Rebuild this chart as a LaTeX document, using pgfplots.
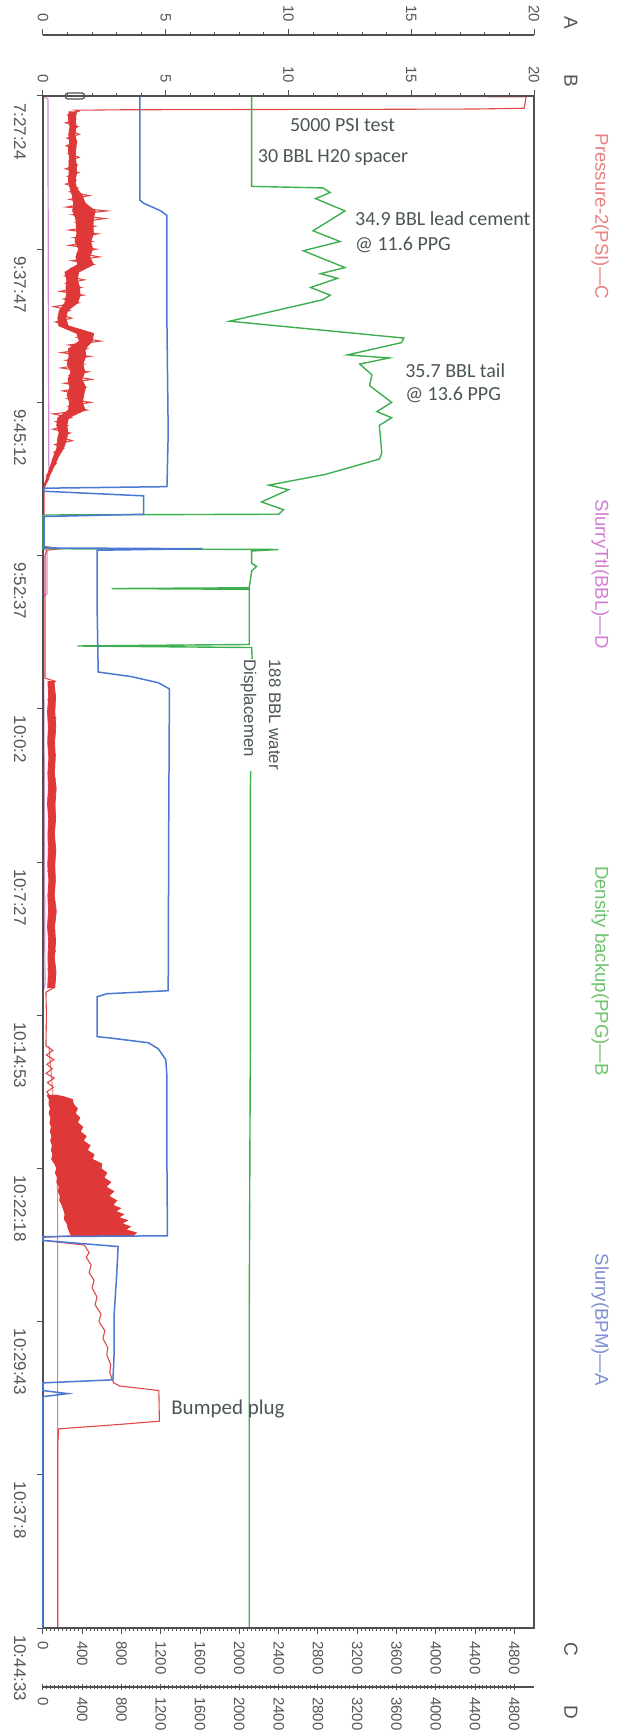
\documentclass[border=0pt]{standalone}
\usepackage{fontspec}
\setmainfont{Liberation Sans}
\newfontfamily\annfont{Carlito}
\usepackage{pgfplots}
\pgfplotsset{compat=1.18}

\definecolor{presline}{HTML}{E04848}
\definecolor{presband}{HTML}{DE3838}
\definecolor{presthin}{HTML}{E77B7B}
\definecolor{ttlline}{HTML}{D58AD6}
\definecolor{densline}{HTML}{3DAF4F}
\definecolor{rateline}{HTML}{4B78D2}
\definecolor{framec}{HTML}{505050}
\definecolor{tickc}{HTML}{555555}
\definecolor{anntext}{HTML}{4A5656}
\definecolor{legP}{HTML}{E88080}
\definecolor{legT}{HTML}{D47CD2}
\definecolor{legB}{HTML}{6CC36C}
\definecolor{legA}{HTML}{7D8ED2}

\pgfplotsset{
  chartbox/.style={width=245.5pt, height=766pt, scale only axis,
    enlargelimits=false, ymin=0, ymax=10},
  deco/.style={axis y line=none,
    axis line style={framec, line width=0.6pt},
    tick style={framec, line width=0.5pt},
    major tick length=3pt, minor tick length=1.6pt, tick align=outside,
    /pgf/number format/assume math mode=true,
    /pgf/number format/1000 sep={},
    ticklabel style={font=\fontsize{7.5}{8}\selectfont, text=tickc}},
}

\begin{document}
\begin{tikzpicture}

% pressure (C) and slurry total (D), 0-5000
\begin{axis}[chartbox, xmin=0, xmax=5000, y dir=reverse, hide axis, clip=false]
\addplot[ttlline, line width=0.6pt] coordinates {
(0,0) (50,0.02) (55,1.5) (60,2.5) (0,2.56) (0,2.95) (40,2.97) (40,3.25) (0,3.27)
(10,4.0) (20,5.8) (0,5.85) (0,10)
};
\addplot[presthin, line width=0.5pt] coordinates {
(60,6.2) (100,6.5) (140,6.95) (150,7.2) (150,10)
};
\addplot[presline, line width=0.55pt] coordinates {
(50,0) (4920,0.005) (4900,0.08) (4700,0.082) (4400,0.085) (3400,0.087) (2300,0.088)
(800,0.09) (330,0.093)
(363,0.100) (251,0.125) (335,0.150) (230,0.175) (356,0.200) (272,0.225) (370,0.250)
(244,0.275) (342,0.300) (237,0.325) (321,0.350) (258,0.375) (367,0.400) (265,0.425)
(349,0.450) (230,0.475) (363,0.500) (251,0.525) (335,0.550) (230,0.575) (356,0.600)
(272,0.625) (472,0.650) (270,0.675) (427,0.700) (241,0.725) (650,0.750) (304,0.775)
(630,0.800) (343,0.825) (528,0.850) (266,0.875) (559,0.900) (312,0.925) (497,0.950)
(266,0.975) (543,1.000) (358,1.025) (574,1.050) (297,1.075) (512,1.100) (281,1.125)
(338,1.150) (224,1.175) (420,1.200) (237,1.225) (388,1.250) (174,1.275) (413,1.300)
(212,1.325) (363,1.350) (109,1.375) (273,1.400) (164,1.425) (291,1.450) (127,1.475)
(255,1.500) (301,1.525) (486,1.550) (348,1.575) (586,1.600) (263,1.625) (448,1.650)
(186,1.675) (479,1.700) (232,1.725) (417,1.750) (186,1.775) (463,1.800) (278,1.825)
(494,1.850) (217,1.875) (432,1.900) (201,1.925) (386,1.950) (248,1.975) (486,2.000)
(263,2.025) (448,2.050) (102,2.075) (288,2.100) (131,2.125) (249,2.150) (102,2.175)
(278,2.200) (161,2.225) (298,2.250) (122,2.275) (209,2.300) (111,2.325) (148,2.350)
(95,2.375) (135,2.400) (72,2.425) (90,2.450) (36,2.475) (57,2.500) (18,2.525) (15,2.550)
(10,2.56) (10,2.94) (190,2.955) (40,2.965) (20,3.0) (20,3.8)
(126,3.82) (62,3.86) (110,3.90) (50,3.94) (122,3.98) (74,4.02) (130,4.06) (58,4.10)
(114,4.14) (54,4.18) (102,4.22) (66,4.26) (128,4.30) (70,4.34) (118,4.38) (50,4.42)
(126,4.46) (62,4.50) (110,4.54) (50,4.58) (122,4.62) (74,4.66) (130,4.70) (58,4.74)
(114,4.78) (54,4.82) (102,4.86) (66,4.90) (128,4.94) (70,4.98) (118,5.02) (50,5.06)
(126,5.10) (62,5.14) (110,5.18) (50,5.22) (122,5.26) (74,5.30) (130,5.34) (58,5.38)
(114,5.42) (54,5.46) (102,5.50) (66,5.54) (128,5.58) (70,5.62) (118,5.66) (50,5.70)
(126,5.74) (62,5.78) (110,5.82)
(30,5.85) (35,6.0) (30,6.2)
(100,6.23) (35,6.26) (110,6.29) (40,6.32) (95,6.35) (30,6.38) (115,6.41) (45,6.44)
(105,6.47) (40,6.50) (60,6.52)
(200,6.6) (100,6.8) (400,7.0) (200,7.2) (600,7.3) (290,7.44)
(0,7.45) (0,7.47) (420,7.50) (470,7.55) (440,7.58) (490,7.63) (470,7.68) (520,7.73)
(500,7.78) (550,7.84) (530,7.89) (590,7.95) (570,8.0) (630,8.06) (610,8.11) (660,8.17)
(650,8.22) (690,8.28) (680,8.33) (705,8.38) (720,8.40) (780,8.42) (1180,8.45)
(1185,8.65) (800,8.67) (160,8.70) (150,8.8) (150,10)
};
% pulsation bands of the pressure record
\addplot[fill=presband, draw=presband, line width=0.4pt] coordinates {
(266,0.10) (258,0.15) (275,0.20) (262,0.25) (271,0.30) (258,0.35) (269,0.40) (264,0.45)
(266,0.50) (258,0.55) (275,0.60) (299,0.65) (312,0.70) (302,0.75) (334,0.80) (340,0.85)
(345,0.90) (326,0.95) (364,1.00) (335,1.05) (354,1.10) (223,1.15) (242,1.20) (235,1.25)
(238,1.30) (223,1.35) (167,1.40) (151,1.45) (162,1.50) (346,1.55) (370,1.60) (260,1.65)
(265,1.70) (246,1.75) (284,1.80) (255,1.85) (274,1.90) (246,1.95) (270,2.00) (260,2.05)
(152,2.10) (140,2.15) (164,2.20) (146,2.25) (141,2.30) (109,2.35) (84,2.40) (57,2.45)
(32,2.50) (11,2.55)
(19,2.55) (52,2.50) (87,2.45) (126,2.40) (161,2.35) (209,2.30) (236,2.25) (254,2.20)
(242,2.15) (260,2.10) (429,2.05) (401,2.00) (415,1.95) (434,1.90) (396,1.85) (425,1.80)
(406,1.75) (434,1.70) (429,1.65) (501,1.60) (515,1.55) (255,1.50) (233,1.45) (250,1.40)
(354,1.35) (377,1.30) (373,1.25) (350,1.20) (362,1.15) (514,1.10) (476,1.05) (505,1.00)
(486,0.95) (514,0.90) (509,0.85) (513,0.80) (532,0.75) (428,0.70) (401,0.65) (338,0.60)
(329,0.55) (342,0.50) (340,0.45) (327,0.40) (334,0.35) (342,0.30) (325,0.25) (338,0.20)
(329,0.15) (342,0.10)
};
\addplot[fill=presband, draw=presband, line width=0.4pt] coordinates {
(50,3.82) (58,3.92) (46,4.02) (55,4.12) (48,4.22) (60,4.32) (50,4.42) (56,4.52)
(46,4.62) (58,4.72) (50,4.82) (55,4.92) (48,5.02) (60,5.12) (50,5.22) (56,5.32)
(46,5.42) (58,5.52) (50,5.62) (55,5.72) (48,5.82)
(120,5.82) (132,5.72) (115,5.62) (128,5.52) (118,5.42) (135,5.32) (114,5.22) (126,5.12)
(120,5.02) (130,4.92) (116,4.82) (128,4.72) (122,4.62) (134,4.52) (115,4.42) (125,4.32)
(118,4.22) (130,4.12) (120,4.02) (128,3.92) (110,3.82)
};
\addplot[fill=presband, draw=presband, line width=0.4pt] coordinates {
(40,6.52) (65,6.55) (60,6.58) (75,6.61) (62,6.64) (80,6.67) (70,6.70) (85,6.73)
(75,6.76) (90,6.79) (78,6.82) (95,6.85) (85,6.88) (100,6.91) (88,6.94) (120,6.97)
(140,7.00) (125,7.03) (150,7.06) (140,7.09) (165,7.12) (155,7.15) (175,7.18) (170,7.21)
(195,7.24) (210,7.27) (225,7.30) (215,7.33) (245,7.36) (255,7.39) (275,7.42) (290,7.44)
(920,7.44) (950,7.42) (840,7.40) (890,7.38) (800,7.36) (860,7.34) (770,7.32) (820,7.30)
(740,7.28) (790,7.26) (710,7.24) (750,7.21) (670,7.18) (720,7.15) (640,7.12) (690,7.09)
(620,7.06) (650,7.03) (590,7.00) (600,6.97) (500,6.94) (520,6.91) (450,6.88) (480,6.85)
(410,6.82) (440,6.79) (380,6.76) (405,6.73) (350,6.70) (375,6.67) (330,6.64) (350,6.61)
(310,6.58) (300,6.55) (200,6.53) (120,6.52)
};
\end{axis}

% density (B) and slurry rate (A), 0-20, with frame and time ticks
\begin{axis}[chartbox, xmin=0, xmax=20, y dir=reverse, clip=false,
  axis line style={framec, line width=0.6pt},
  xtick=\empty,
  ytick={0,1,...,10},
  yticklabels={7:27:24,9:37:47,9:45:12,9:52:37,10:0:2,10:7:27,10:14:53,10:22:18,10:29:43,10:37:8,10:44:33},
  ytick pos=left, tick align=outside, major tick length=3pt,
  tick style={framec, line width=0.5pt},
  yticklabel style={xshift=-2pt, rotate=-90, anchor=north west,
    font=\fontsize{8.5}{10}\selectfont, text=tickc}]
\addplot[densline, line width=0.7pt] coordinates {
(8.5,0.0) (8.5,0.59) (11.4,0.60) (11.7,0.63) (11.1,0.67) (12.3,0.75) (11.0,0.88)
(12.1,0.95) (10.6,1.01) (12.3,1.12) (11.3,1.16) (12.0,1.19) (10.9,1.25) (11.7,1.30)
(11.4,1.33) (7.6,1.47) (14.7,1.58) (14.6,1.61) (12.4,1.69) (14.1,1.71) (12.9,1.75)
(13.4,1.82) (13.3,1.89) (14.2,2.0) (13.6,2.06) (14.2,2.10) (13.7,2.15) (13.8,2.33)
(13.7,2.37) (11.5,2.47) (9.2,2.54) (10.0,2.57) (8.9,2.65) (9.8,2.70) (9.6,2.73)
(0,2.735) (0,2.955) (9.6,2.96) (8.5,2.97) (8.5,3.05) (8.7,3.07) (8.5,3.10) (8.4,3.21)
(2.8,3.215) (8.4,3.22) (8.4,3.58) (1.4,3.59) (8.5,3.60) (8.55,3.8) (8.45,4.5)
(8.45,6.0) (8.4,8.0) (8.4,10.0)
};
\addplot[rateline, line width=0.75pt] coordinates {
(3.95,0) (3.95,0.68) (4.1,0.70) (4.8,0.75) (5.05,0.78) (5.05,1.5) (5.1,2.2) (5.05,2.55)
(0.05,2.56) (0.05,2.58) (4.1,2.61) (4.1,2.73) (0.05,2.745) (0.05,2.95) (6.5,2.955)
(2.2,2.965) (2.2,3.3) (2.25,3.76) (3.6,3.79) (4.7,3.83) (5.15,3.87) (5.12,4.8)
(5.1,5.84) (2.6,5.86) (2.2,5.88) (2.2,6.14) (2.8,6.15) (4.3,6.18) (4.7,6.22)
(5.0,6.29) (5.05,6.4) (5.05,7.0) (5.07,7.44) (0,7.445) (0,7.47) (3.06,7.51) (3.0,7.7)
(2.9,7.95) (2.9,8.2) (2.85,8.38) (0,8.40) (0,8.45) (1.0,8.47) (0,8.49) (0,10)
};
\draw[framec, rounded corners=1.5pt, line width=0.6pt]
  (axis cs:0.9,-0.02) rectangle (axis cs:1.7,0.02);
% annotations
\begin{scope}[every node/.style={text=anntext, font=\annfont\fontsize{10}{12}\selectfont}]
\node at (axis cs:12.2,0.19) {5000 PSI test};
\node[anchor=west, inner sep=0pt] at (axis cs:8.74,0.40) {30 BBL H20 spacer};
\node[anchor=west, inner sep=0pt] at (axis cs:12.7,0.80) {34.9 BBL lead cement};
\node[anchor=west, inner sep=0pt] at (axis cs:12.7,0.97) {@ 11.6 PPG};
\node[anchor=west, inner sep=0pt] at (axis cs:14.74,1.79) {35.7 BBL tail};
\node[anchor=west, inner sep=0pt] at (axis cs:14.74,1.95) {@ 13.6 PPG};
\node[anchor=west, inner sep=0pt, font=\annfont\fontsize{10.5}{12}\selectfont]
  at (axis cs:5.21,8.57) {Bumped plug};
\end{scope}
\node[rotate=-90, anchor=north west, align=left, fill=white, inner sep=0.5pt,
  font=\fontsize{8.4}{12.5}\selectfont, text=anntext]
  at (axis cs:9.75,3.67) {188 BBL water\\Displacemen};
% series names
\begin{scope}[every node/.style={rotate=-90, anchor=west, font=\fontsize{9.3}{11}\selectfont}]
\node[text=legP] at (axis cs:22.7,0.2) {Pressure-2(PSI)—C};
\node[text=legT] at (axis cs:22.7,2.59) {SlurryTtl(BBL)—D};
\node[text=legB] at (axis cs:22.7,4.98) {Density backup(PPG)—B};
\node[text=legA] at (axis cs:22.7,7.51) {Slurry(BPM)—A};
\end{scope}
% scale letters
\begin{scope}[every node/.style={rotate=-90, text=tickc, font=\fontsize{9.5}{11}\selectfont}]
\node at (axis cs:21.5,-0.48) {A};
\node at (axis cs:21.5,-0.10) {B};
\node at (axis cs:21.5,10.14) {C};
\node at (axis cs:21.5,10.55) {D};
\end{scope}
\end{axis}

% scale A (outer top)
\begin{axis}[chartbox, deco, xmin=0, xmax=20, yshift=30.5pt,
  axis x line*=top, xtick={0,5,...,20}, minor x tick num=4,
  xticklabel style={rotate=-90, anchor=east}]
\end{axis}
% scale B (frame top)
\begin{axis}[chartbox, deco, name=bax, xmin=0, xmax=20,
  axis x line*=top, xtick={0,5,...,20}, minor x tick num=4,
  xticklabel style={rotate=-90, anchor=east}]
\end{axis}
% scale C (frame bottom)
\begin{axis}[chartbox, deco, xmin=0, xmax=5000,
  axis x line*=bottom, xtick={0,400,...,4800}, minor x tick num=9,
  xticklabel style={rotate=-90, anchor=west}]
\end{axis}
% scale D (outer bottom)
\begin{axis}[chartbox, deco, xmin=0, xmax=5000, yshift=-29.5pt,
  axis x line*=bottom, xtick={0,400,...,4800}, minor x tick num=9,
  tick align=center,
  xticklabel style={rotate=-90, anchor=west}]
\end{axis}

\pgfresetboundingbox
\path[use as bounding box] ([xshift=-21.5pt,yshift=48pt]bax.north west)
  rectangle ([xshift=43.5pt,yshift=-52pt]bax.south east);
\end{tikzpicture}
\end{document}
